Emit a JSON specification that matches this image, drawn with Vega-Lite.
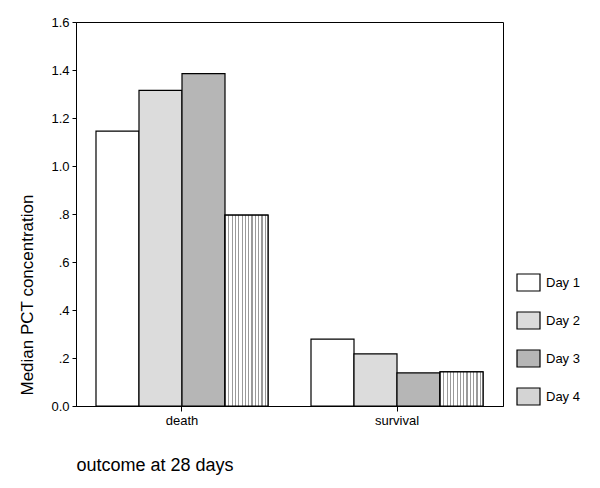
{
  "$schema": "https://vega.github.io/schema/vega-lite/v6.json",
  "autosize": {"type": "none"},
  "padding": {"left": 76, "top": 22, "right": 97, "bottom": 82},
  "width": 427,
  "height": 384,
  "background": "white",
  "config": {
    "font": "Liberation Sans",
    "view": {"stroke": "black", "strokeWidth": 1},
    "axis": {"domainColor": "black", "tickColor": "black", "labelColor": "black", "titleColor": "black", "grid": false}
  },
  "data": {
    "values": [
      {"outcome": "death", "day": "Day 1", "pct": 1.145},
      {"outcome": "death", "day": "Day 2", "pct": 1.315},
      {"outcome": "death", "day": "Day 3", "pct": 1.385},
      {"outcome": "death", "day": "Day 4", "pct": 0.795},
      {"outcome": "survival", "day": "Day 1", "pct": 0.279},
      {"outcome": "survival", "day": "Day 2", "pct": 0.217},
      {"outcome": "survival", "day": "Day 3", "pct": 0.138},
      {"outcome": "survival", "day": "Day 4", "pct": 0.142}
    ]
  },
  "encoding": {
    "x": {
      "field": "outcome", "type": "nominal",
      "scale": {"paddingInner": 0.2, "paddingOuter": 0.093},
      "axis": {
        "title": "outcome at 28 days", "labelAngle": 0, "labelFontSize": 13, "labelPadding": 3,
        "tickSize": 5, "titleFontSize": 18, "titleFontWeight": "normal",
        "titleAnchor": "start", "titleAlign": "left", "titleX": 0, "titleY": 59, "titleBaseline": "middle"
      }
    },
    "xOffset": {"field": "day", "type": "nominal", "scale": {"paddingInner": 0, "paddingOuter": 0}},
    "y": {
      "field": "pct", "type": "quantitative",
      "scale": {"domain": [0, 1.6], "nice": false},
      "axis": {
        "title": "Median PCT concentration", "values": [0, 0.2, 0.4, 0.6, 0.8, 1.0, 1.2, 1.4, 1.6],
        "labelExpr": "datum.value >= 1 || datum.value == 0 ? format(datum.value, '.1f') : replace(format(datum.value, '.1f'), '0.', '.')",
        "labelFontSize": 13, "tickSize": 4, "labelPadding": 3,
        "titleFontSize": 17, "titleFontWeight": "normal",
        "titleX": -49, "titleY": 373, "titleAlign": "left", "titleBaseline": "middle", "titleAngle": -90
      }
    }
  },
  "layer": [
    {
      "mark": {"type": "bar", "stroke": "black", "strokeWidth": 1.2},
      "encoding": {
        "fill": {
          "field": "day", "type": "nominal",
          "scale": {"domain": ["Day 1", "Day 2", "Day 3", "Day 4"], "range": ["#ffffff", "#dcdcdc", "#b6b6b6", "#d4d4d4"]},
          "legend": {
            "title": null, "orient": "none", "legendX": 440, "legendY": 248, "padding": 0,
            "symbolType": "M-1,-0.74L1,-0.74L1,0.74L-1,0.74Z", "symbolSize": 529,
            "symbolStrokeColor": "black", "symbolStrokeWidth": 1.2, "symbolOpacity": 1,
            "labelFontSize": 13, "labelColor": "black", "labelOffset": 5, "rowPadding": 14
          }
        }
      }
    },
    {
      "transform": [{"filter": "datum.day == 'Day 4'"}],
      "mark": {"type": "bar", "stroke": "black", "strokeWidth": 1.2},
      "encoding": {
        "fill": {"value": {"gradient": "linear", "x1": 0, "y1": 0, "x2": 1, "y2": 0, "stops": [
            {"offset": 0, "color": "#9a9a9a"}, {"offset": 0.027, "color": "#9a9a9a"}, {"offset": 0.027, "color": "#ffffff"}, {"offset": 0.0769, "color": "#ffffff"},
            {"offset": 0.0769, "color": "#9a9a9a"}, {"offset": 0.1039, "color": "#9a9a9a"}, {"offset": 0.1039, "color": "#ffffff"}, {"offset": 0.1538, "color": "#ffffff"},
            {"offset": 0.1538, "color": "#9a9a9a"}, {"offset": 0.1808, "color": "#9a9a9a"}, {"offset": 0.1808, "color": "#ffffff"}, {"offset": 0.2308, "color": "#ffffff"},
            {"offset": 0.2308, "color": "#9a9a9a"}, {"offset": 0.2578, "color": "#9a9a9a"}, {"offset": 0.2578, "color": "#ffffff"}, {"offset": 0.3077, "color": "#ffffff"},
            {"offset": 0.3077, "color": "#9a9a9a"}, {"offset": 0.3347, "color": "#9a9a9a"}, {"offset": 0.3347, "color": "#ffffff"}, {"offset": 0.3846, "color": "#ffffff"},
            {"offset": 0.3846, "color": "#9a9a9a"}, {"offset": 0.4116, "color": "#9a9a9a"}, {"offset": 0.4116, "color": "#ffffff"}, {"offset": 0.4615, "color": "#ffffff"},
            {"offset": 0.4615, "color": "#9a9a9a"}, {"offset": 0.4885, "color": "#9a9a9a"}, {"offset": 0.4885, "color": "#ffffff"}, {"offset": 0.5385, "color": "#ffffff"},
            {"offset": 0.5385, "color": "#9a9a9a"}, {"offset": 0.5655, "color": "#9a9a9a"}, {"offset": 0.5655, "color": "#ffffff"}, {"offset": 0.6154, "color": "#ffffff"},
            {"offset": 0.6154, "color": "#9a9a9a"}, {"offset": 0.6424, "color": "#9a9a9a"}, {"offset": 0.6424, "color": "#ffffff"}, {"offset": 0.6923, "color": "#ffffff"},
            {"offset": 0.6923, "color": "#9a9a9a"}, {"offset": 0.7193, "color": "#9a9a9a"}, {"offset": 0.7193, "color": "#ffffff"}, {"offset": 0.7692, "color": "#ffffff"},
            {"offset": 0.7692, "color": "#9a9a9a"}, {"offset": 0.7962, "color": "#9a9a9a"}, {"offset": 0.7962, "color": "#ffffff"}, {"offset": 0.8462, "color": "#ffffff"},
            {"offset": 0.8462, "color": "#9a9a9a"}, {"offset": 0.8732, "color": "#9a9a9a"}, {"offset": 0.8732, "color": "#ffffff"}, {"offset": 0.9231, "color": "#ffffff"},
            {"offset": 0.9231, "color": "#9a9a9a"}, {"offset": 0.9501, "color": "#9a9a9a"}, {"offset": 0.9501, "color": "#ffffff"}, {"offset": 1, "color": "#ffffff"}
          ]}}
      }
    }
  ]
}
